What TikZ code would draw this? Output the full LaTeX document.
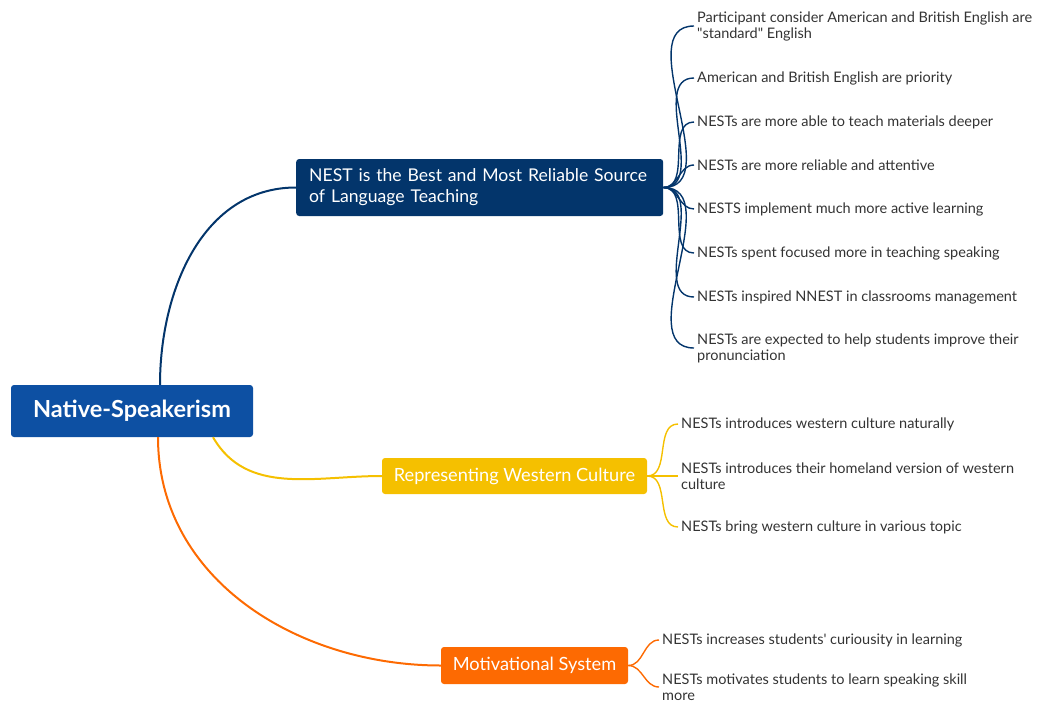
\documentclass[tikz,border=0pt]{standalone}
\usepackage{fontspec}
\setmainfont{Lato}
\usetikzlibrary{positioning}

\definecolor{rootblue}{HTML}{0D50A3}
\definecolor{nestblue}{HTML}{03356B}
\definecolor{cultyellow}{HTML}{F5C000}
\definecolor{motorange}{HTML}{FD6A02}
\definecolor{leafgray}{HTML}{333333}

\tikzset{
  topic/.style={rounded corners=3pt, text=white, inner sep=0pt},
  leaf/.style={anchor=west, inner xsep=3pt, inner ysep=0pt, align=left, text=leafgray,
    font=\fontsize{14.5}{16}\selectfont},
  branch/.style={line width=2pt},
  twig/.style={line width=1.4pt},
}

\begin{document}
\begin{tikzpicture}[x=1pt,y=-1pt]
    \useasboundingbox (0,0) rectangle (1039,704);

    % main topics
    \node[topic, fill=rootblue, minimum width=242pt, minimum height=52pt,
      font=\fontsize{23.5}{26}\selectfont\bfseries] (root) at (132,411) {Native-Speakerism};
    \node[topic, fill=nestblue, anchor=west, inner xsep=13pt, text width=341pt, minimum height=57pt,
      align=left, font=\fontsize{17.6}{21}\selectfont] (nest) at (296,187.5)
      {NEST is the Best and Most Reliable Source\\of Language Teaching};
    \node[topic, fill=cultyellow, minimum width=265pt, minimum height=36pt,
      font=\fontsize{18.2}{21}\selectfont] (cult) at (514.5,476) {Representing Western Culture};
    \node[topic, fill=motorange, minimum width=187pt, minimum height=37pt,
      font=\fontsize{18.2}{21}\selectfont] (motiv) at (534.5,665.5) {Motivational System};

    \draw[branch, nestblue] ([xshift=28pt]root.north) to[out=90,in=180] (nest.west);
    \draw[branch, cultyellow] ([xshift=81pt]root.south) to[out=-60,in=180] (cult.west);
    \draw[branch, motorange] ([xshift=26pt]root.south) to[out=-90,in=180] (motiv.west);

    % subtopics
    \foreach \y/\txt [count=\i] in {
        26/{Participant consider American and British English are\\\textquotedbl standard\textquotedbl\ English},
        78/{American and British English are priority},
        122/{NESTs are more able to teach materials deeper},
        165/{NESTs are more reliable and attentive},
        209/{NESTS implement much more active learning},
        253/{NESTs spent focused more in teaching speaking},
        297/{NESTs inspired NNEST in classrooms management},
        348/{NESTs are expected to help students improve their\\pronunciation}}
    {
        \node[leaf] (nest\i) at (694,\y) {\txt};
        \draw[twig, nestblue] (nest.east) to[out=0,in=180] (nest\i.west);
    }

    \foreach \y/\txt [count=\i] in {
        424/{NESTs introduces western culture naturally},
        476/{NESTs introduces their homeland version of western\\culture},
        527/{NESTs bring western culture in various topic}}
    {
        \node[leaf] (cult\i) at (678,\y) {\txt};
        \draw[twig, cultyellow] (cult.east) to[out=0,in=180] (cult\i.west);
    }

    \foreach \y/\txt [count=\i] in {
        640/{NESTs increases students\textquotesingle\ curiousity in learning},
        687/{NESTs motivates students to learn speaking skill\\more}}
    {
        \node[leaf] (motiv\i) at (659,\y) {\txt};
        \draw[twig, motorange] (motiv.east) to[out=0,in=180] (motiv\i.west);
    }

\end{tikzpicture}
\end{document}
